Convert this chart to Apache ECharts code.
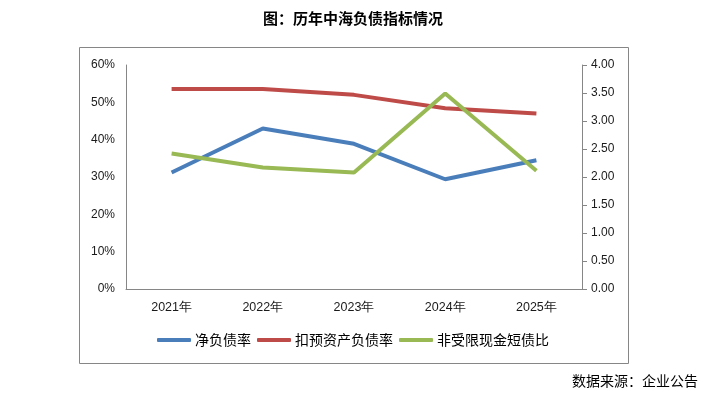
<!DOCTYPE html>
<html>
<head>
<meta charset="utf-8">
<script src="https://cdn.jsdelivr.net/npm/echarts@6/dist/echarts.min.js"></script>
<style>
  html, body { margin: 0; padding: 0; background: #fff; }
  #chart { width: 706px; height: 398px; }
</style>
</head>
<body>
<div id="chart"></div>
<script>
// data
const years = ['2021年', '2022年', '2023年', '2024年', '2025年'];
const netDebtRatio = [31.2, 43.0, 38.9, 29.4, 34.5];       // 净负债率, %
const adjAssetLiabRatio = [53.6, 53.6, 52.0, 48.4, 47.0];  // 扣预资产负债率, %
const cashShortDebt = [2.42, 2.17, 2.08, 3.49, 2.11];      // 非受限现金短债比

const axisColor = '#868686';
const labelFont = { fontFamily: 'Liberation Sans', fontSize: 12, color: '#1a1a1a' };

const chart = echarts.init(document.getElementById('chart'));
chart.setOption({
    animation: false,
    color: ['#4a7ebb', '#be4b48', '#98b954'],
    title: {
        text: '图：历年中海负债指标情况',
        left: 'center',
        top: 6,
        textStyle: {
            fontFamily: 'Noto Sans CJK SC',
            fontSize: 15,
            fontWeight: 'bold',
            color: '#000'
        }
    },
    graphic: [
        {
            type: 'rect',
            shape: { x: 79.5, y: 47.5, width: 549, height: 316 },
            style: { fill: 'none', stroke: axisColor, lineWidth: 1 },
            silent: true,
            z: -1
        },
        {
            type: 'text',
            right: 8,
            top: 374,
            style: {
                text: '数据来源：企业公告',
                font: '14px "Noto Sans CJK SC"',
                fill: '#000'
            }
        }
    ],
    legend: {
        bottom: 46,
        left: 'center',
        itemWidth: 34,
        itemHeight: 4,
        itemGap: 6,
        icon: 'roundRect',
        textStyle: {
            fontFamily: 'Noto Sans CJK SC',
            fontSize: 14,
            color: '#000',
            padding: [0, 0, 0, -1]
        },
        data: ['净负债率', '扣预资产负债率', '非受限现金短债比']
    },
    grid: {
        left: 126,
        right: 124,
        top: 65,
        bottom: 109
    },
    xAxis: {
        type: 'category',
        data: years,
        boundaryGap: true,
        axisLine: { lineStyle: { color: axisColor } },
        axisTick: { show: false },
        axisLabel: Object.assign({}, labelFont, { margin: 12, fontSize: 12.5 }),
        splitLine: { show: false }
    },
    yAxis: [
        {
            type: 'value',
            min: 0,
            max: 60,
            interval: 10,
            axisLine: { show: true, lineStyle: { color: axisColor } },
            axisTick: { show: false },
            axisLabel: Object.assign({ margin: 11, formatter: '{value}%' }, labelFont),
            splitLine: { show: false }
        },
        {
            type: 'value',
            position: 'right',
            min: 0,
            max: 4,
            interval: 0.5,
            axisLine: { show: true, lineStyle: { color: axisColor } },
            axisTick: { show: true, length: 5, lineStyle: { color: axisColor } },
            axisLabel: Object.assign({
                margin: 9,
                formatter: v => v.toFixed(2)
            }, labelFont),
            splitLine: { show: false }
        }
    ],
    series: [
        {
            name: '净负债率',
            type: 'line',
            yAxisIndex: 0,
            data: netDebtRatio,
            showSymbol: false,
            lineStyle: { width: 4 }
        },
        {
            name: '扣预资产负债率',
            type: 'line',
            yAxisIndex: 0,
            data: adjAssetLiabRatio,
            showSymbol: false,
            lineStyle: { width: 4 }
        },
        {
            name: '非受限现金短债比',
            type: 'line',
            yAxisIndex: 1,
            data: cashShortDebt,
            showSymbol: false,
            lineStyle: { width: 4 }
        }
    ]
});
</script>
</body>
</html>
